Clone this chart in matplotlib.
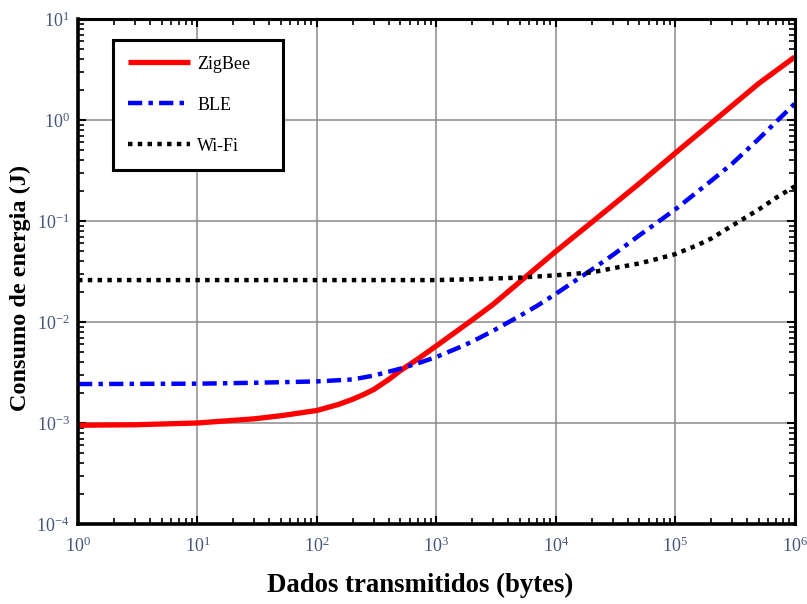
import matplotlib
matplotlib.use("Agg")
import matplotlib.pyplot as plt
from matplotlib.ticker import LogLocator, NullFormatter

plt.rcParams["font.family"] = ["Liberation Serif", "DejaVu Serif"]
plt.rcParams["mathtext.fontset"] = "custom"
plt.rcParams["mathtext.rm"] = "Liberation Serif"

# data (bytes -> joules)
zb_x = [1, 3, 10, 30, 50, 100, 150, 200, 250, 300, 400, 500, 700, 1000,
        1500, 2000, 3000, 5000, 7000, 1e4, 2e4, 5e4, 1e5, 2e5, 5e5, 1e6]
zigbee = [9.5e-4, 9.6e-4, 1.0e-3, 1.1e-3, 1.18e-3, 1.33e-3, 1.52e-3, 1.72e-3,
          1.93e-3, 2.15e-3, 2.7e-3, 3.3e-3, 4.3e-3, 5.8e-3, 8.2e-3, 1.05e-2,
          1.5e-2, 2.5e-2, 3.5e-2, 5.0e-2, 9.7e-2, 0.235, 0.47, 0.93, 2.3, 4.2]

ble_x = [1, 10, 30, 100, 200, 300, 500, 700, 1000, 1500, 2000, 3000, 5000,
         7000, 1e4, 2e4, 3e4, 5e4, 1e5, 2e5, 3e5, 5e5, 1e6]
ble = [2.43e-3, 2.45e-3, 2.5e-3, 2.58e-3, 2.7e-3, 2.95e-3, 3.45e-3, 3.9e-3,
       4.5e-3, 5.5e-3, 6.4e-3, 8.2e-3, 1.15e-2, 1.45e-2, 1.9e-2, 3.3e-2,
       4.6e-2, 7.2e-2, 0.13, 0.25, 0.37, 0.65, 1.45]

wifi_x = [1, 10, 100, 1000, 2000, 5000, 1e4, 2e4, 3e4, 5e4, 7e4, 1e5,
          1.5e5, 2e5, 3e5, 5e5, 7e5, 1e6]
wifi = [0.026, 0.026, 0.026, 0.026, 0.0265, 0.0275, 0.029, 0.031, 0.034,
        0.038, 0.042, 0.047, 0.057, 0.067, 0.09, 0.13, 0.17, 0.22]

tick_col = "#46557a"

fig = plt.figure(figsize=(8.07, 6.04), dpi=100)
ax = fig.add_axes([0.0967, 0.1325, 0.888, 0.836])

ax.plot(zb_x, zigbee, color="#ff0000", lw=3.8, label="ZigBee",
        solid_capstyle="butt")
ax.plot(ble_x, ble, color="#0000ff", lw=3.2, label="BLE",
        linestyle=(0, (3.2, 1.4, 1.0, 1.4)))
ax.plot(wifi_x, wifi, color="black", lw=3.2, label="Wi-Fi",
        linestyle=(0, (1.0, 1.2)))

ax.set_xscale("log")
ax.set_yscale("log")
ax.set_xlim(1, 1e6)
ax.set_ylim(1e-4, 1e1)
ax.xaxis.set_major_locator(LogLocator(base=10, numticks=10))
ax.yaxis.set_major_locator(LogLocator(base=10, numticks=10))
ax.xaxis.set_minor_locator(LogLocator(base=10, subs=range(2, 10), numticks=20))
ax.yaxis.set_minor_locator(LogLocator(base=10, subs=range(2, 10), numticks=20))
ax.xaxis.set_minor_formatter(NullFormatter())
ax.yaxis.set_minor_formatter(NullFormatter())

ax.grid(True, which="major", color="#8a8a8a", lw=1.1)
ax.tick_params(which="both", direction="in", top=True, right=True,
               colors="black", labelcolor=tick_col, labelsize=13)
ax.tick_params(which="major", length=6, width=1.5)
ax.tick_params(which="minor", length=4, width=1.2)
ax.tick_params(axis="x", pad=9)
ax.tick_params(axis="y", pad=6)
for side in ["left", "bottom"]:
    ax.spines[side].set_linewidth(2.6)
for side in ["top", "right"]:
    ax.spines[side].set_linewidth(2.2)

ax.set_xlabel("Dados transmitidos (bytes)", fontsize=19.3, fontweight="bold")
ax.set_ylabel("Consumo de energia (J)", fontsize=17.5, fontweight="bold")
ax.xaxis.set_label_coords(0.478, -0.097)
ax.yaxis.set_label_coords(-0.066, 0.467)

# legend box stretched to the reference width
leg = ax.legend(loc="upper left", bbox_to_anchor=(0.049, 0.0, 0.237, 0.958),
                mode="expand", fontsize=13, handlelength=3.4,
                labelspacing=1.33, borderpad=0.85, handletextpad=0.4,
                fancybox=False, framealpha=1, edgecolor="black",
                borderaxespad=0)
leg.get_frame().set_linewidth(2.2)

fig.savefig("out.png", dpi=100, facecolor="white")
